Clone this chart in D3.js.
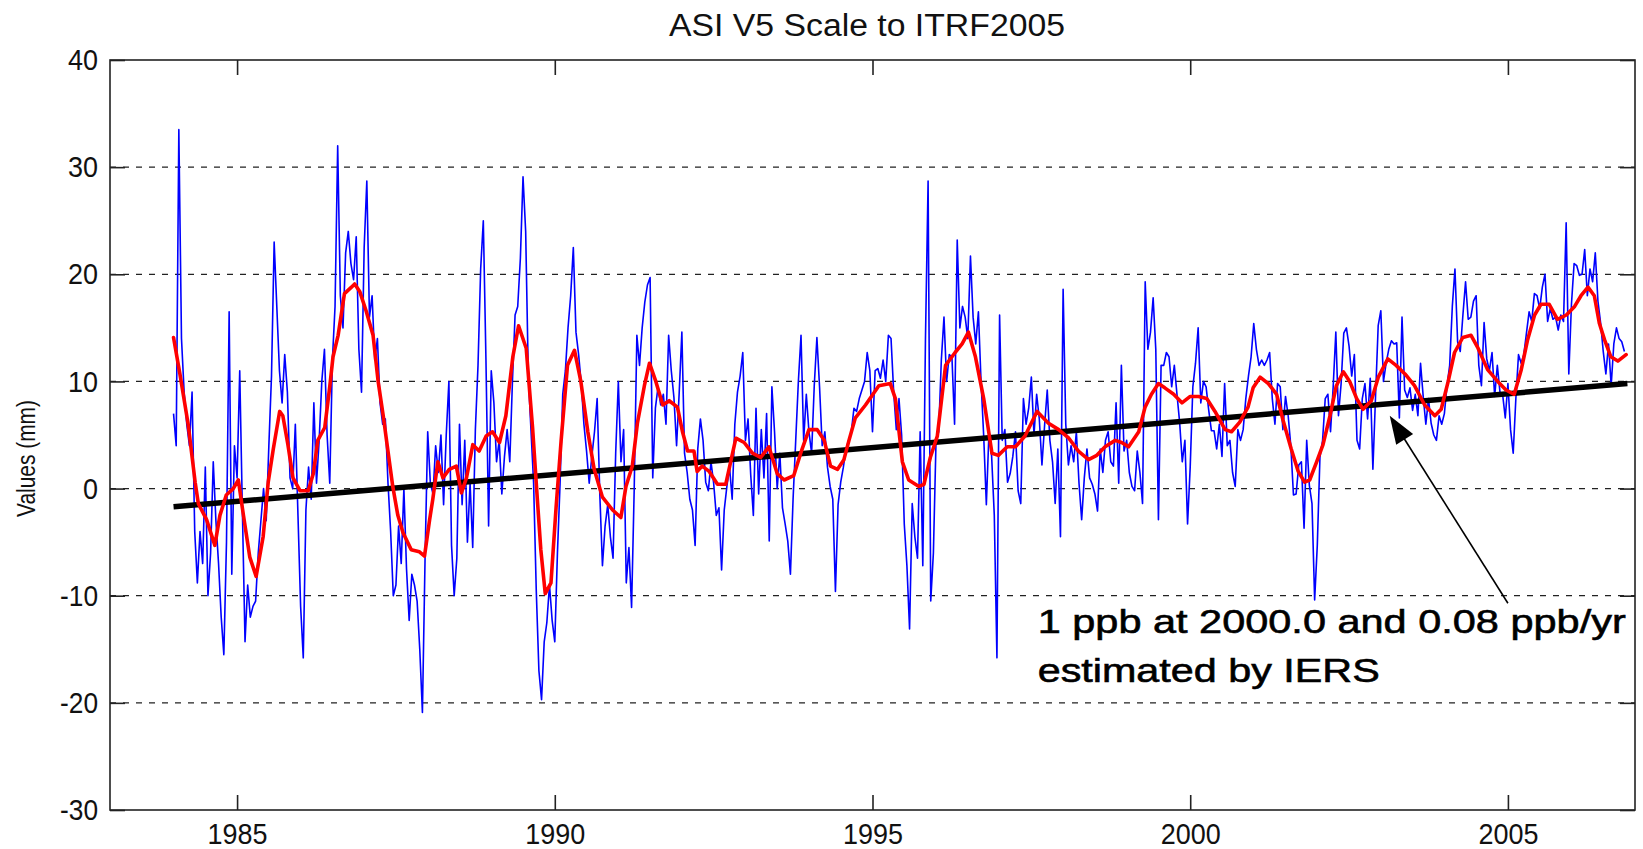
<!DOCTYPE html>
<html><head><meta charset="utf-8">
<script src="https://cdn.jsdelivr.net/npm/d3@7"></script>
<style>html,body{margin:0;padding:0;background:#fff;} svg{display:block;}</style>
</head><body>
<svg id="chart" width="1643" height="849"></svg>
<script>
// ---------------- data ----------------
const titleText = "ASI V5 Scale to ITRF2005";
const yLabelText = "Values (mm)";
const xTickValues = [1985, 1990, 1995, 2000, 2005];
const yTickValues = [-30, -20, -10, 0, 10, 20, 30, 40];
const gridValues = [-20, -10, 0, 10, 20, 30];

// blue series: regular sampling, 24 samples per year from 1984.0
const blueStartYear = 1984.0;
const blueSamplesPerYear = 24;
const blueValues = [
  7,4,33.5,14,9,6,4,9,-4,-8.8,-4,-7,2,-10,-6,2.5,-3,-7,-12,-15.5,-5,16.5,-8,4,
  1,11,-2,-14.3,-9,-12,-11,-10.5,-6,-3,0,-3,4,10.5,23,17,11,8,12.5,9,1,0,6,-2.5,
  -11,-15.8,-2,2,-1,8,0.5,4.5,10,13,5,0.5,12,17,32,18,15,22,24,21,19.5,23.5,13,9,
  22.5,28.7,16,18,12,14,8,6,6.5,0.5,-4,-10,-9,-3.5,-7,0,-7.5,-12.3,-8,-9,-10.5,-15,-20.9,-6.5,
  5.3,0.5,-0.5,4,1.5,5,-1.5,5,10,-5.3,-10,-6.5,6,-1.5,4.5,-5,0.5,-5.5,5.5,11.5,20.5,25,12,-3.5,
  11,8,2.5,4.5,-0.5,3,5.5,2.5,10,16.2,17,21.5,29.1,24,10.5,5.5,0.5,-9.5,-17,-19.7,-14.3,-12.5,-9,-12.3,
  -14.3,-6,0.5,8.8,11,15,18,22.5,14.6,12.5,9.8,6,3.5,0.5,3,5.3,8.4,-0.5,-7.2,-3.5,-1.5,-4.5,-6.5,3.3,
  10,2.5,5.5,-8.8,-5.5,-11.1,0,14.3,11.5,15,17.4,19,19.7,1,7.5,9.5,7.8,8.8,6,14.3,11,8.5,4,9,
  14.6,3.3,1.5,-1,-2,-5.3,3.7,6.5,4.5,0.6,-0.2,2.5,0.5,-2.5,-1.8,-7.6,-2,0.2,2,-1,6,9,10.5,12.7,
  4.5,6.5,1.3,-2.5,7.5,-0.5,5.5,1,7,-4.9,9.5,5.3,0,3.3,-1.8,-3.3,-4.9,-8,-1,4.5,10,14.3,4.5,8.8,
  5.3,3.3,9.6,14.1,9.5,4,5.3,2,0.2,-1,-9.6,-1.5,0.6,2,3.7,4.5,5.3,7.5,7.2,8.4,9.2,10,12.7,11,
  5.3,11,11.2,10.3,12,10,14.3,14,9,5.5,8.4,5,-3.3,-7.2,-13.1,-1.4,-4.5,-6.5,5.3,-7.2,13.9,28.7,-10.5,-6,
  4.5,5.3,12,16,10,12.5,12.3,6,23.2,15,17,16,14,21.7,16,13.5,16.5,10,4.9,-1.5,5.3,3,-2.5,-15.8,
  16.2,4.5,5.5,0.6,1.4,3,5.3,-0.2,-1.4,8.4,6,7.5,10.4,5,8.8,6.5,2.2,5.9,9.2,4.5,2.5,-1.4,3.7,-4.5,
  18.6,6,2.2,4,2.5,5.3,0.5,-2.9,1,3.7,1,0.4,-0.5,-2.1,3.7,1.5,4.5,5.3,2.5,2.1,8,0.5,11.5,3.5,
  4.5,1.5,0.2,-0.2,3.5,1.5,-1.4,19.3,13,14.6,17.8,13,-2.9,11.5,11.5,12.7,12.3,9.5,11.5,8.8,6.2,2.5,4.5,-3.3,
  2,9.5,11.7,15,8,10,9.5,7.3,5.4,5.4,3.7,6,3,9.8,4,4.5,1.5,0.2,5.5,4.5,5.5,8.4,10.5,12.3,
  15.4,13,11.5,12,11.5,12,12.7,8.4,6,9.8,9.5,5.5,8.6,6.8,4,-0.6,-0.5,2.2,2.5,-3.7,4.5,0.3,-1.4,-10.4,
  -5.3,2.9,4.5,8.4,8.8,5.3,9.5,14.6,6.8,9.8,14.5,15,13.3,10.5,12.5,4.5,3.7,8.4,9.8,6.5,10.3,1.8,8.6,15.2,
  16.6,10,11.7,13,13.8,13.5,13.6,6.6,16,9.2,8.5,9.4,7.3,8.8,6.8,11.7,8.6,6,8.4,6.1,5,4.5,6.8,6,
  7,9.6,11.5,17,20.5,13.7,12.8,16.2,19.3,15.8,16,17.5,18,11.5,9.6,15.5,12.1,11,12.7,8.6,11.5,9,8.8,6.6,
  9.8,5.5,3.3,8.4,12.5,11.7,12.5,14.5,16.5,15.6,18.2,18,16.8,18.8,20,15.6,16.8,15.8,16,14.8,16.2,15.6,24.8,10.7,
  17.2,21,20.8,19.9,20,22.3,18,20.5,19.3,22,17.5,15.5,12.8,10.7,13.5,9.6,13.5,15,14,13.7,12.8
];

// red smoothed series
const redYears = [
  1984.00,1984.10,1984.23,1984.34,1984.39,1984.52,1984.65,1984.73,1984.83,1984.94,
  1985.02,1985.10,1985.20,1985.30,1985.41,1985.49,1985.57,1985.67,1985.72,1985.80,1985.88,1985.99,
  1986.12,1986.20,1986.27,1986.38,1986.46,1986.51,1986.59,1986.69,1986.80,1986.85,1986.93,
  1987.03,1987.14,1987.22,1987.30,1987.37,1987.45,1987.53,1987.61,1987.74,1987.87,1987.95,
  1988.03,1988.08,1988.16,1988.24,1988.34,1988.45,1988.53,1988.61,1988.71,1988.81,1988.92,
  1989.02,1989.13,1989.23,1989.34,1989.43,1989.55,1989.65,1989.73,1989.78,1989.85,1989.94,
  1990.02,1990.10,1990.20,1990.31,1990.41,1990.52,1990.62,1990.75,1990.91,
  1991.04,1991.12,1991.22,1991.30,1991.41,1991.49,1991.59,1991.70,1991.80,1991.93,
  1992.01,1992.09,1992.19,1992.24,1992.32,1992.43,1992.56,1992.69,1992.85,1992.98,
  1993.11,1993.24,1993.37,1993.50,1993.61,1993.76,1993.87,
  1994.00,1994.13,1994.24,1994.34,1994.45,1994.55,1994.63,1994.73,1994.89,
  1995.10,1995.28,1995.36,1995.47,1995.57,1995.73,1995.81,1995.91,
  1996.02,1996.15,1996.30,1996.41,1996.51,1996.62,1996.75,1996.88,1996.98,
  1997.12,1997.25,1997.40,1997.59,1997.77,1997.93,
  1998.09,1998.24,1998.40,1998.53,1998.66,1998.82,1998.92,
  1999.03,1999.19,1999.29,1999.39,1999.50,1999.60,1999.74,1999.87,
  2000.00,2000.13,2000.26,2000.39,2000.55,2000.65,2000.78,2000.91,2000.99,
  2001.10,2001.23,2001.36,2001.46,2001.59,2001.70,2001.80,2001.88,2001.99,
  2002.09,2002.20,2002.30,2002.41,2002.51,2002.62,2002.72,2002.85,2002.96,
  2003.11,2003.24,2003.38,2003.53,2003.69,2003.85,2003.95,
  2004.06,2004.16,2004.29,2004.42,2004.53,2004.68,2004.84,2004.97,
  2005.10,2005.21,2005.31,2005.42,2005.52,2005.65,2005.78,2005.92,
  2006.05,2006.15,2006.26,2006.36,2006.44,2006.52,2006.62,2006.73,2006.86
];
const redValues = [
  14.1,10.7,6,0.6,-1.4,-2.9,-5.3,-2.5,-0.6,0,
  0.8,-2.5,-6.4,-8.2,-4.5,0.6,3.7,7.2,6.8,4.1,1,-0.2,
  -0.2,1.4,4.5,5.7,9.6,12.3,14.3,18.2,18.8,19.1,18.4,
  16.6,14.3,10,6.8,3.7,0.2,-2.5,-4.1,-5.7,-5.9,-6.3,
  -2.9,-1,2.5,1,1.8,2.1,-0.4,1,4.1,3.5,4.9,
  5.3,4.3,6.8,12.3,15.2,13.1,5.7,-1.4,-5.7,-9.8,-8.8,
  -1.8,4.5,11.5,12.9,10,5.3,1.8,-0.8,-2,
  -2.7,0.2,2.1,6.1,9.6,11.7,10,7.8,8.2,7.6,
  5.3,3.5,3.5,1.6,2.1,1.6,0.4,0.4,4.7,4.3,
  3.3,2.9,3.9,1.4,0.8,1.2,3.3,
  5.5,5.5,4.5,2.1,1.8,2.7,4.5,6.6,7.8,
  9.6,9.8,8.4,2.5,0.8,0.2,0.4,2.9,
  4.9,11.5,12.7,13.5,14.6,12.3,8.4,3.3,3.1,
  3.9,3.9,4.9,7.2,6.1,5.5,
  4.7,3.5,2.7,3.1,3.9,4.5,4.3,
  3.9,5.3,7.6,8.8,9.8,9.4,8.8,8,
  8.6,8.6,8.4,7.2,5.5,5.3,6.2,7.6,9.4,
  10.4,9.8,8.8,6.4,3.7,1.6,0.6,0.8,2.5,
  4.1,6.8,9.6,10.9,10,8.4,7.4,8.2,10.4,
  12.1,11.5,10.7,9.6,7.8,6.8,7.4,
  10,12.7,14.1,14.3,13.1,11.1,10,9.2,
  8.8,11.1,13.9,16.2,17.2,17.2,15.8,16.2,
  17,18,18.8,18,15.4,13.9,12.3,11.9,12.5
];

// black trend line (IERS estimate)
const trendYears = [1984.0, 2006.88];
const trendValues = [-1.7, 9.8];

// annotation
const noteLines = ["1 ppb at 2000.0 and 0.08 ppb/yr", "estimated by IERS"];
const noteAnchor = [1997.6, -13.48];
const arrowFrom = [2005.0, -10.7];
const arrowTo = [2003.14, 6.8];

// ---------------- drawing ----------------
const W = 1643, H = 849;
const L = 110, R = 1635, T = 60, B = 810;
const FONT = "'Liberation Sans', Arial, Helvetica, sans-serif";
const svg = d3.select("#chart");
svg.append("rect").attr("width", W).attr("height", H).attr("fill", "#fff");

const x = d3.scaleLinear().domain([1983, 2007]).range([L, R]);
const y = d3.scaleLinear().domain([-30, 40]).range([B, T]);

// gridlines
svg.append("g").selectAll("line").data(gridValues).join("line")
  .attr("x1", L).attr("x2", R)
  .attr("y1", d => y(d)).attr("y2", d => y(d))
  .attr("stroke", "#222").attr("stroke-width", 1.3)
  .attr("stroke-dasharray", "6,7");

function labelLen(s) {
  let n = 0;
  for (const c of s) n += (c === "-" || c === "\u2212") ? 8 : 15;
  return n;
}
function styleAxis(g, withText) {
  g.attr("font-family", FONT).attr("font-size", 30).attr("color", "#111");
  g.select(".domain").remove();
  g.selectAll(".tick line").attr("stroke", "#222").attr("stroke-width", 1.6);
  if (withText) {
    g.selectAll(".tick text").each(function() {
      const t = d3.select(this);
      t.attr("textLength", labelLen(t.text())).attr("lengthAdjust", "spacingAndGlyphs");
    });
  }
}

svg.append("g").attr("transform", `translate(0,${B})`)
  .call(d3.axisBottom(x).tickValues(xTickValues).tickSizeInner(-15).tickSizeOuter(0)
    .tickPadding(13).tickFormat(d3.format("d")))
  .call(g => styleAxis(g, true));
svg.append("g").attr("transform", `translate(0,${T})`)
  .call(d3.axisTop(x).tickValues(xTickValues).tickSizeInner(-15).tickSizeOuter(0).tickFormat(""))
  .call(g => styleAxis(g, false));
svg.append("g").attr("transform", `translate(${L},0)`)
  .call(d3.axisLeft(y).tickValues(yTickValues).tickSizeInner(-15).tickSizeOuter(0)
    .tickPadding(12).tickFormat(d => String(d)))
  .call(g => styleAxis(g, true));
svg.append("g").attr("transform", `translate(${R},0)`)
  .call(d3.axisRight(y).tickValues(yTickValues).tickSizeInner(-15).tickSizeOuter(0).tickFormat(""))
  .call(g => styleAxis(g, false));

// series
const line = d3.line().x(d => x(d[0])).y(d => y(d[1]));
const blueData = blueValues.map((v, i) => [blueStartYear + i / blueSamplesPerYear, v]);
svg.append("path").datum(blueData).attr("d", line)
  .attr("fill", "none").attr("stroke", "#0000ff").attr("stroke-width", 1.6)
  .attr("stroke-linejoin", "round");

const trendData = trendYears.map((t, i) => [t, trendValues[i]]);
svg.append("path").datum(trendData).attr("d", line)
  .attr("fill", "none").attr("stroke", "#000").attr("stroke-width", 5.5);

const redData = redYears.map((t, i) => [t, redValues[i]]);
svg.append("path").datum(redData).attr("d", line)
  .attr("fill", "none").attr("stroke", "#ff0000").attr("stroke-width", 3.6)
  .attr("stroke-linejoin", "round").attr("stroke-linecap", "round");

// box
svg.append("rect").attr("x", L).attr("y", T).attr("width", R - L).attr("height", B - T)
  .attr("fill", "none").attr("stroke", "#222").attr("stroke-width", 1.6);

// title
svg.append("text").attr("x", 867).attr("y", 36).attr("text-anchor", "middle")
  .attr("font-family", FONT).attr("font-size", 31).attr("fill", "#111")
  .attr("textLength", 396).attr("lengthAdjust", "spacingAndGlyphs").text(titleText);

// y label
svg.append("text").attr("transform", "translate(35,517) rotate(-90)")
  .attr("font-family", FONT).attr("font-size", 25).attr("fill", "#111")
  .attr("textLength", 117).attr("lengthAdjust", "spacingAndGlyphs").text(yLabelText);

// annotation text
const nx = x(noteAnchor[0]), ny = y(noteAnchor[1]);
const noteLens = [588, 342];
noteLines.forEach((s, i) => {
  svg.append("text").attr("x", nx).attr("y", ny + i * 49)
    .attr("font-family", FONT).attr("font-size", 34).attr("fill", "#000")
    .attr("stroke", "#000").attr("stroke-width", 0.6)
    .attr("textLength", noteLens[i]).attr("lengthAdjust", "spacingAndGlyphs").text(s);
});

// arrow
const ax0 = x(arrowFrom[0]), ay0 = y(arrowFrom[1]);
const ax1 = x(arrowTo[0]), ay1 = y(arrowTo[1]);
const dx = ax1 - ax0, dy = ay1 - ay0, len = Math.hypot(dx, dy);
const ux = dx / len, uy = dy / len;
const headL = 28, headW = 10;
const bx = ax1 - ux * headL, by = ay1 - uy * headL;
svg.append("line").attr("x1", ax0).attr("y1", ay0).attr("x2", bx + ux * 4).attr("y2", by + uy * 4)
  .attr("stroke", "#000").attr("stroke-width", 1.6);
svg.append("polygon")
  .attr("points", [[ax1, ay1], [bx - uy * headW, by + ux * headW], [bx + uy * headW, by - ux * headW]]
    .map(p => p.join(",")).join(" "))
  .attr("fill", "#000");
</script>
</body></html>
